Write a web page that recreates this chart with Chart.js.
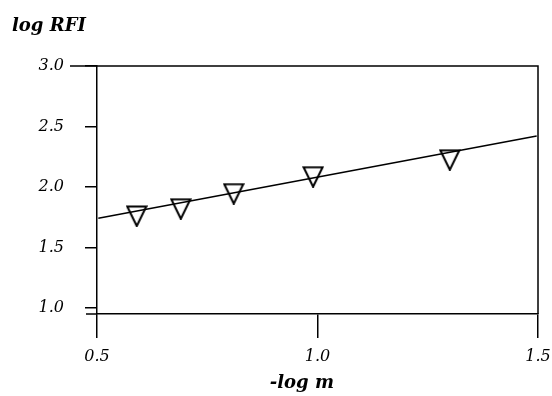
<!DOCTYPE html>
<html>
<head>
<meta charset="utf-8">
<script src="https://cdn.jsdelivr.net/npm/chart.js@4/dist/chart.umd.min.js"></script>
<style>
  html, body { margin: 0; padding: 0; background: #fff; }
</style>
</head>
<body>
<canvas id="grafico" width="552" height="396"></canvas>
<script>
// === Datos ===
const menosLogM = [0.59, 0.69, 0.81, 0.99, 1.30];
const logRFI = [1.76, 1.82, 1.945, 2.085, 2.225];
// recta de ajuste (extremos)
const ajusteX = [0.503, 1.497];
const ajusteY = [1.741, 2.421];
// marcas de los ejes
const ticksX = [0.5, 1.0, 1.5];
const ticksY = [1.0, 1.5, 2.0, 2.5, 3.0];

const fuenteTick = { family: "'DejaVu Serif', serif", style: 'italic', size: 16 };
const fuenteTitulo = { family: "'DejaVu Serif', serif", style: 'italic', weight: 'bold', size: 18 };

// triángulo invertido hueco como marcador
function crearTriangulo() {
  const c = document.createElement('canvas');
  c.width = 22;
  c.height = 22;
  const g = c.getContext('2d');
  g.strokeStyle = '#000';
  g.lineWidth = 2;
  g.beginPath();
  g.moveTo(1.5, 1.5);
  g.lineTo(20.5, 1.5);
  g.lineTo(11, 21);
  g.closePath();
  g.stroke();
  return c;
}

// marco del área de trazado (arriba y derecha) + prolongaciones a la izquierda
const marco = {
  id: 'marco',
  afterDraw(chart) {
    const { ctx, chartArea: a } = chart;
    ctx.save();
    ctx.strokeStyle = '#000';
    ctx.lineWidth = 1.5;
    ctx.beginPath();
    ctx.moveTo(a.left - 27, a.top);
    ctx.lineTo(a.right, a.top);
    ctx.lineTo(a.right, a.bottom);
    ctx.moveTo(a.left - 11, a.bottom);
    ctx.lineTo(a.left, a.bottom);
    ctx.stroke();
    ctx.restore();
  }
};

new Chart(document.getElementById('grafico'), {
  type: 'scatter',
  data: {
    datasets: [
      {
        type: 'scatter',
        data: menosLogM.map((x, i) => ({ x, y: logRFI[i] })),
        pointStyle: crearTriangulo(),
        pointRadius: 10,
        borderColor: '#000'
      },
      {
        type: 'line',
        data: ajusteX.map((x, i) => ({ x, y: ajusteY[i] })),
        borderColor: '#000',
        borderWidth: 1.5,
        pointRadius: 0,
        fill: false
      }
    ]
  },
  options: {
    responsive: false,
    animation: false,
    devicePixelRatio: 1,
    layout: { padding: { left: 12, right: 14, top: 0, bottom: 0 } },
    plugins: {
      legend: { display: false },
      tooltip: { enabled: false },
      title: {
        display: true,
        text: 'log RFI',
        align: 'start',
        color: '#000',
        font: fuenteTitulo,
        padding: { top: 16, bottom: 28.4 }
      }
    },
    scales: {
      x: {
        type: 'linear',
        min: 0.5,
        max: 1.5,
        afterBuildTicks: s => { s.ticks = ticksX.map(v => ({ value: v })); },
        afterFit: s => { s.height = 82; s.paddingLeft = 0; s.paddingRight = 0; },
        grid: { drawOnChartArea: false, drawTicks: true, tickLength: 24, color: '#000', lineWidth: 1.5 },
        border: { display: true, color: '#000', width: 1.5 },
        ticks: { color: '#000', padding: 9, maxRotation: 0, font: fuenteTick, callback: v => v.toFixed(1) },
        title: {
          display: true,
          text: '-log m\u00A0\u00A0\u00A0\u00A0\u00A0',
          color: '#000',
          font: fuenteTitulo,
          padding: { top: 0, bottom: 2 }
        }
      },
      y: {
        type: 'linear',
        min: 0.95,
        max: 3.0,
        afterBuildTicks: s => { s.ticks = ticksY.map(v => ({ value: v })); },
        afterFit: s => { s.width = 85; },
        grid: { drawOnChartArea: false, drawTicks: true, tickLength: 12, color: '#000', lineWidth: 1.5 },
        border: { display: true, color: '#000', width: 1.5 },
        ticks: { color: '#000', padding: 21, font: fuenteTick, callback: v => v.toFixed(1) }
      }
    }
  },
  plugins: [marco]
});
</script>
</body>
</html>
